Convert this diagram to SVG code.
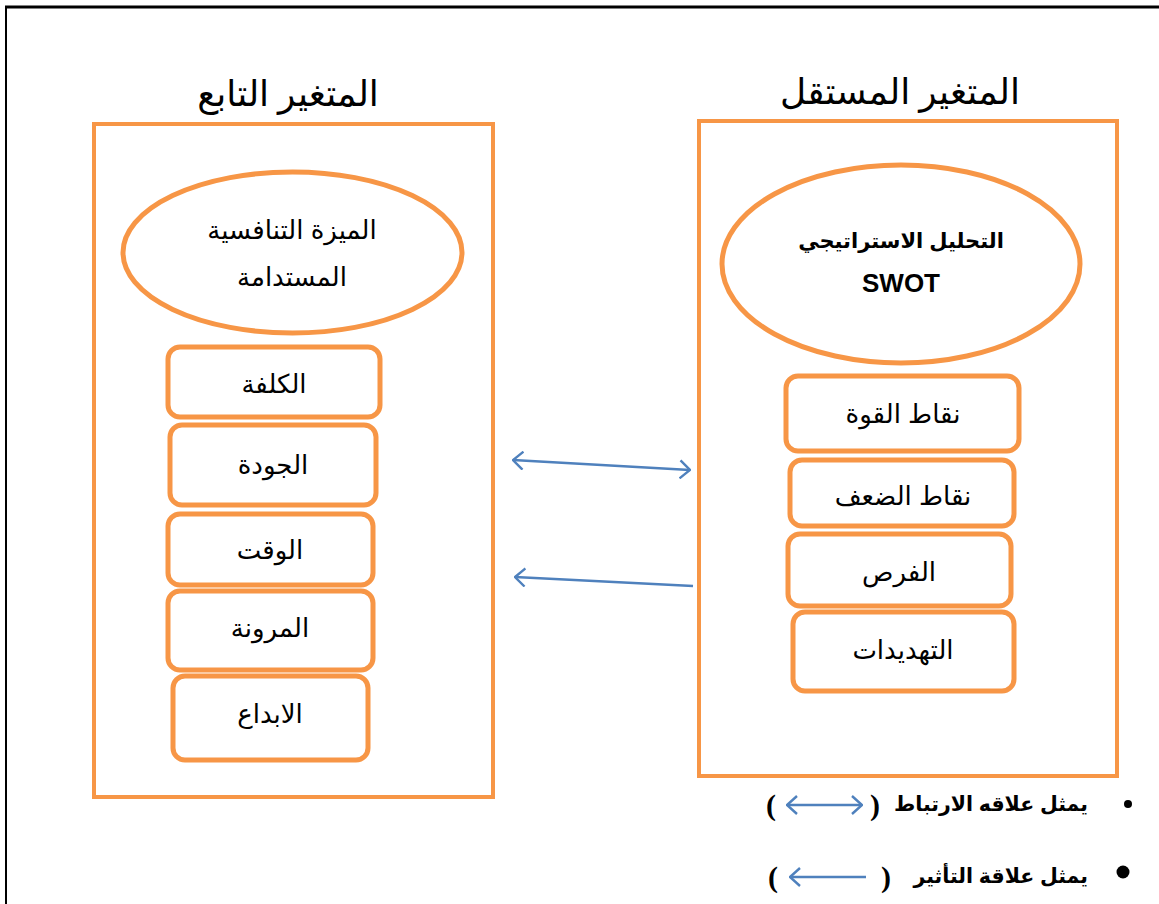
<svg xmlns="http://www.w3.org/2000/svg" width="1159" height="904" viewBox="0 0 1159 904">
<style>
.box{fill:#fff;stroke:#F79646;stroke-width:5}
.frame{fill:#fff;stroke:#F79646;stroke-width:4}
.t{font-family:"Liberation Sans","DejaVu Sans",sans-serif;font-size:26px;fill:#000;text-anchor:middle}
.title{font-family:"Liberation Serif","DejaVu Serif","DejaVu Sans",serif;font-size:36px;fill:#000;text-anchor:middle}
.b{font-family:"Liberation Sans","DejaVu Sans",sans-serif;font-weight:bold;fill:#000}
.p{font-family:"Liberation Serif",serif;font-weight:bold;font-size:30px;fill:#000;text-anchor:middle}
.arr{stroke:#4F81BD;stroke-width:2.4;fill:none}
</style>
<defs>
<marker id="ah" viewBox="0 0 12 20" refX="11" refY="10" markerWidth="12" markerHeight="20" markerUnits="userSpaceOnUse" orient="auto-start-reverse">
<path d="M1,1 L11,10 L1,19" fill="none" stroke="#4F81BD" stroke-width="2.4"/>
</marker>
</defs>
<rect width="1159" height="904" fill="#fff"/>
<g id="page-border">
<line x1="5" y1="7" x2="1159" y2="7" stroke="#000" stroke-width="3"/>
<line x1="6" y1="6" x2="6" y2="904" stroke="#000" stroke-width="2"/>
</g>
<g id="dependent">
<text class="title" x="288" y="106">المتغير التابع</text>
<rect class="frame" x="94" y="124" width="399" height="673"/>
</g>
<g id="independent">
<text class="title" x="900" y="104">المتغير المستقل</text>
<rect class="frame" x="699" y="121" width="418" height="655"/>
</g>
<g id="sustainable-advantage">
<ellipse class="box" cx="292.5" cy="252.5" rx="169.5" ry="80.5" stroke-width="4"/>
<text class="t" x="292" y="239" font-size="29">الميزة التنافسية</text>
<text class="t" x="292" y="286" font-size="29">المستدامة</text>
</g>
<g id="swot">
<ellipse class="box" cx="901" cy="264" rx="179" ry="99" stroke-width="4"/>
<text class="b" x="901" y="248" font-size="21" text-anchor="middle">التحليل الاستراتيجي</text>
<text class="b" x="901" y="292" font-size="26" text-anchor="middle">SWOT</text>
</g>
<g id="cost"><rect class="box" x="168" y="347" width="212" height="70" rx="12"/><text class="t" x="274" y="393">الكلفة</text></g>
<g id="quality"><rect class="box" x="170" y="425" width="206" height="80" rx="12"/><text class="t" x="273" y="474">الجودة</text></g>
<g id="time"><rect class="box" x="168" y="514" width="205" height="71" rx="12"/><text class="t" x="270" y="559">الوقت</text></g>
<g id="flexibility"><rect class="box" x="168" y="591" width="205" height="79" rx="12"/><text class="t" x="270" y="637">المرونة</text></g>
<g id="innovation"><rect class="box" x="173" y="676" width="195" height="84" rx="12"/><text class="t" x="270" y="723">الابداع</text></g>
<g id="strengths"><rect class="box" x="786" y="376" width="233" height="75" rx="12"/><text class="t" x="903" y="423">نقاط القوة</text></g>
<g id="weaknesses"><rect class="box" x="790" y="460" width="224" height="66" rx="12"/><text class="t" x="903" y="505">نقاط الضعف</text></g>
<g id="opportunities"><rect class="box" x="788" y="534" width="223" height="72" rx="12"/><text class="t" x="899" y="581">الفرص</text></g>
<g id="threats"><rect class="box" x="793" y="612" width="221" height="79" rx="12"/><text class="t" x="903" y="659">التهديدات</text></g>
<g id="connectors">
<line class="arr" x1="513" y1="460" x2="690" y2="470" marker-start="url(#ah)" marker-end="url(#ah)"/>
<line class="arr" x1="693" y1="586" x2="515" y2="577" marker-end="url(#ah)"/>
</g>
<g id="legend">
<circle cx="1128" cy="804" r="4" fill="#000"/>
<text class="b" x="1088" y="811" font-size="20.5" text-anchor="end">يمثل علاقه الارتباط</text>
<text class="p" x="875" y="815">)</text>
<line class="arr" x1="787" y1="805" x2="862" y2="805" marker-start="url(#ah)" marker-end="url(#ah)"/>
<text class="p" x="771" y="815">(</text>
<circle cx="1123" cy="872" r="6.5" fill="#000"/>
<text class="b" x="1088" y="883" font-size="20.5" text-anchor="end">يمثل علاقة التأثير</text>
<text class="p" x="886" y="887">)</text>
<line class="arr" x1="866" y1="877" x2="790" y2="877" marker-end="url(#ah)"/>
<text class="p" x="773" y="887">(</text>
</g>
</svg>
